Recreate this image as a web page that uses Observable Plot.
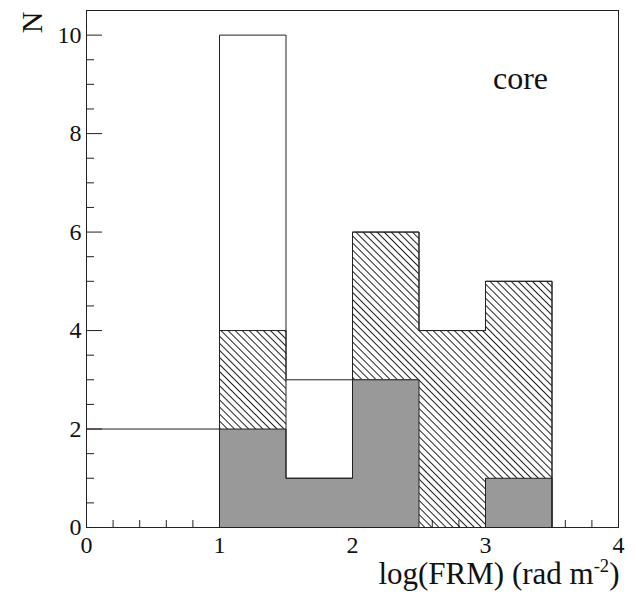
<!DOCTYPE html>
<html>
<head>
<meta charset="utf-8">
<script src="https://cdn.jsdelivr.net/npm/d3@7"></script>
<script src="https://cdn.jsdelivr.net/npm/@observablehq/plot@0.6"></script>
<style>
  html, body { margin: 0; padding: 0; background: white; }
</style>
</head>
<body>
<div id="chart"></div>
<script>
// ---- data ----
const binStart = [0, 0.5, 1, 1.5, 2, 2.5, 3];
const binWidth = 0.5;
const totalCounts   = [2, 2, 10, 3, 6, 4, 5];   // open outline
const hatchedCounts = [0, 0, 4, 1, 6, 4, 5];    // hatched
const grayCounts    = [0, 0, 2, 1, 3, 0, 1];    // gray filled

const xMajorTicks = [0, 1, 2, 3, 4];
const xMinorTicks = d3.range(0, 4.001, 0.2).map(v => +v.toFixed(1)).filter(v => !xMajorTicks.includes(v));
const yMajorTicks = [0, 2, 4, 6, 8, 10];
const yMinorTicks = d3.range(0, 10.501, 0.5).filter(v => !yMajorTicks.includes(v));

const xTitle = "log(FRM) (rad m";
const xTitleSup = "-2";
const yTitle = "N";
const panelLabel = "core";

// ---- derived tables ----
const bins = binStart.map((x0, i) => ({
  x0, x1: x0 + binWidth,
  total: totalCounts[i], hatched: hatchedCounts[i], gray: grayCounts[i]
}));

function stepPoints(counts) {
  let first = counts.findIndex(v => v > 0);
  if (first < 0) first = 0;
  const pts = [{x: binStart[first], y: 0}];
  for (let i = first; i < counts.length; i++) pts.push({x: binStart[i], y: counts[i]});
  const lastEnd = binStart[counts.length - 1] + binWidth;
  pts.push({x: lastEnd, y: counts[counts.length - 1]});
  pts.push({x: lastEnd, y: 0});
  return pts;
}

const lineColor = "#222";

const chart = Plot.plot({
  width: 636,
  height: 595,
  marginLeft: 86,
  marginRight: 18,
  marginTop: 10,
  marginBottom: 68,
  style: {fontFamily: "'Liberation Serif', 'Times New Roman', serif", fontSize: "24px", background: "white", color: "#111"},
  x: {domain: [0, 4], axis: null},
  y: {domain: [0, 10.5], axis: null},
  marks: [
    // inward ticks
    Plot.axisY({ticks: yMinorTicks, tickSize: -8, fill: "none", label: null, stroke: lineColor}),
    Plot.axisY({ticks: yMajorTicks, tickSize: -16, fill: "none", label: null, stroke: lineColor}),
    Plot.axisX({ticks: xMinorTicks, tickSize: -7, fill: "none", label: null, stroke: lineColor}),
    Plot.axisX({ticks: xMajorTicks, tickSize: -15, fill: "none", label: null, stroke: lineColor}),
    // tick labels
    Plot.axisY({ticks: yMajorTicks, tickSize: 0, tickPadding: 5, label: null, fontSize: 24, tickFormat: d => String(d)}),
    Plot.axisX({ticks: xMajorTicks, tickSize: 0, tickPadding: 8, label: null, fontSize: 24, tickFormat: d => String(d)}),
    // histograms
    Plot.rectY(bins, {x1: "x0", x2: "x1", y: "hatched", fill: "url(#hatch3004)", shapeRendering: "crispEdges"}),
    Plot.rectY(bins, {x1: "x0", x2: "x1", y: "gray", fill: "#999999", shapeRendering: "crispEdges"}),
    Plot.line(stepPoints(totalCounts), {x: "x", y: "y", curve: "step-after", stroke: lineColor, strokeWidth: 1}),
    Plot.line(stepPoints(hatchedCounts), {x: "x", y: "y", curve: "step-after", stroke: lineColor, strokeWidth: 1}),
    Plot.line(stepPoints(grayCounts), {x: "x", y: "y", curve: "step-after", stroke: lineColor, strokeWidth: 1}),
    Plot.frame({stroke: lineColor}),
    // texts
    Plot.text([panelLabel], {frameAnchor: "top-right", dx: -98, dy: 78, textAnchor: "middle", lineAnchor: "bottom", fontSize: 32, fill: "#111"}),
    Plot.text([yTitle], {frameAnchor: "top-left", dx: -45, dy: 12, rotate: -90, textAnchor: "middle", lineAnchor: "bottom", fontSize: 30, fill: "#111"}),
    Plot.text([xTitle], {frameAnchor: "bottom-right", dx: 1, dy: 56, textAnchor: "end", lineAnchor: "bottom", fontSize: 31, fill: "#111"})
  ]
});

// hatch pattern definition
const svg = d3.select(chart);
const defs = svg.insert("defs", ":first-child");
const pat = defs.append("pattern")
  .attr("id", "hatch3004")
  .attr("patternUnits", "userSpaceOnUse")
  .attr("width", 5).attr("height", 5)
  .attr("patternTransform", "rotate(-45)");
pat.append("line")
  .attr("x1", 2.5).attr("y1", -1).attr("x2", 2.5).attr("y2", 6)
  .attr("stroke", "#222").attr("stroke-width", 1);

// superscript in x title
svg.selectAll("text").filter(function() { return this.textContent === xTitle; })
  .each(function() {
    const t = d3.select(this);
    t.text(null);
    t.append("tspan").text(xTitle);
    t.append("tspan").attr("dy", "-0.6em").attr("font-size", "0.6em").text(xTitleSup);
    t.append("tspan").attr("dy", "0.36em").text(")");
  });

document.getElementById("chart").appendChild(chart);
</script>
</body>
</html>
